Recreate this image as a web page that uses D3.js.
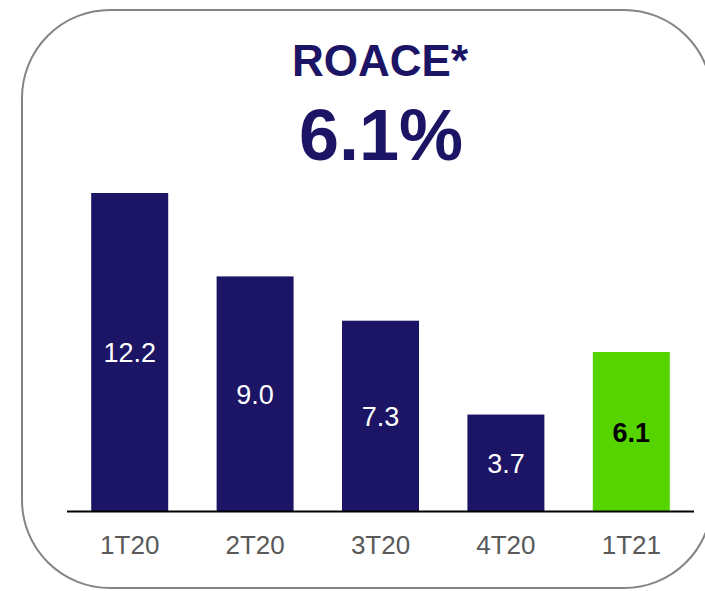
<!DOCTYPE html>
<html><head><meta charset="utf-8">
<script src="https://cdn.jsdelivr.net/npm/d3@7"></script>
<style>html,body{margin:0;padding:0;background:#fff;}svg{display:block;}</style>
</head><body>
<script>
const categories = ["1T20", "2T20", "3T20", "4T20", "1T21"];
const values = [12.2, 9.0, 7.3, 3.7, 6.1];
const labels = ["12.2", "9.0", "7.3", "3.7", "6.1"];
const titleText = "ROACE*";
const headline = "6.1%";

const W = 705, H = 591;
const navy = "#1c1464", green = "#55d400";
const svg = d3.select("body").append("svg").attr("width", W).attr("height", H);

svg.append("rect").attr("x", 22).attr("y", 10).attr("width", 690).attr("height", 578)
  .attr("rx", 88).attr("ry", 88).attr("fill", "#fff").attr("stroke", "#858585").attr("stroke-width", 2);

const font = "'Liberation Sans', Arial, sans-serif";
svg.append("text").attr("x", 380).attr("y", 76).attr("text-anchor", "middle")
  .attr("font-family", font).attr("font-weight", "bold").attr("font-size", 44)
  .attr("fill", navy).text(titleText);
svg.append("text").attr("x", 381).attr("y", 160).attr("text-anchor", "middle")
  .attr("font-family", font).attr("font-weight", "bold").attr("font-size", 72)
  .attr("fill", navy).text(headline);

const x = d3.scaleBand().domain(categories).range([67, 694]).paddingInner(0.386).paddingOuter(0.193);
const y = d3.scaleLinear().domain([0, 12.2]).range([511, 193]);

const data = categories.map((c, i) => ({c, v: values[i], l: labels[i], last: i === categories.length - 1}));

svg.selectAll("rect.bar").data(data).join("rect").attr("class", "bar")
  .attr("x", d => x(d.c)).attr("width", x.bandwidth())
  .attr("y", d => y(d.v)).attr("height", d => y(0) - y(d.v))
  .attr("fill", d => d.last ? green : navy);

svg.selectAll("text.val").data(data).join("text").attr("class", "val")
  .attr("x", d => x(d.c) + x.bandwidth() / 2)
  .attr("y", d => (y(d.v) + y(0)) / 2 + 10)
  .attr("text-anchor", "middle").attr("font-family", font).attr("font-size", 27)
  .attr("font-weight", d => d.last ? "bold" : "normal")
  .attr("fill", d => d.last ? "#000" : "#fff").text(d => d.l);

const axis = svg.append("g").attr("transform", `translate(0,${y(0)})`)
  .call(d3.axisBottom(x).tickSize(0).tickPadding(0));
axis.select(".domain").attr("d", "M67,0.5H694").attr("stroke", "#000").attr("stroke-width", 2);
axis.selectAll("text").attr("dy", null).attr("y", 43)
  .attr("font-family", font).attr("font-size", 26).attr("fill", "#595959");
</script>
</body></html>
